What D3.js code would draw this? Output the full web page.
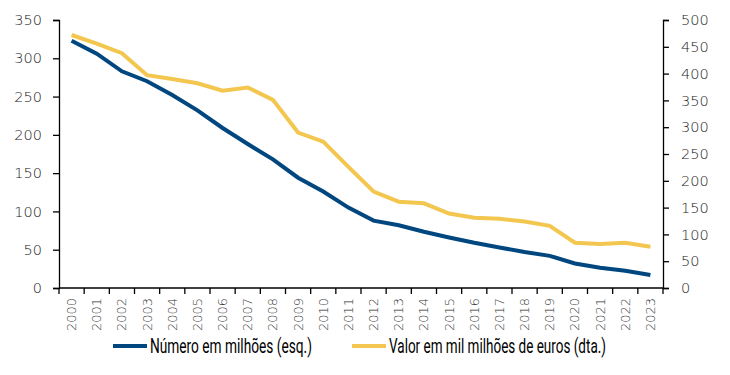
<!DOCTYPE html>
<html>
<head>
<meta charset="utf-8">
<script src="https://cdn.jsdelivr.net/npm/d3@7"></script>
<style>
  body { margin: 0; background: #fff; }
  svg text { font-family: "DejaVu Sans", sans-serif; font-weight: 200; fill: #222; }
  .axis path, .axis line { stroke: #000; stroke-width: 1.3; }
  .legend text { font-family: "Roboto", sans-serif; font-weight: 400; font-size: 20px; fill: #000; }
</style>
</head>
<body>
<div id="chart"></div>
<script>
const years = d3.range(2000, 2024).map(String);
const numeroMilhoes = [323, 306, 283, 270, 252, 232, 209, 188, 168, 144, 126, 105, 88, 82, 73.5, 66, 59, 53, 47, 42, 32, 26.5, 22.5, 17];
const valorMilMilhoes = [472, 456, 438, 397, 390, 382, 368, 374, 351, 290, 273, 226, 180, 161, 158, 139, 131, 129, 124, 116, 84.5, 82, 84.5, 77];
const leftTicks = [0, 50, 100, 150, 200, 250, 300, 350];
const rightTicks = [0, 50, 100, 150, 200, 250, 300, 350, 400, 450, 500];
const seriesNames = ["Número em milhões (esq.)", "Valor em mil milhões de euros (dta.)"];
const colors = ["#00467f", "#f3c74f"];

const width = 730, height = 375;
const margin = { top: 20, right: 67, bottom: 87, left: 59 };
const w = width - margin.left - margin.right;
const h = height - margin.top - margin.bottom;

const svg = d3.select("#chart").append("svg")
    .attr("width", width)
    .attr("height", height);

const g = svg.append("g")
    .attr("transform", `translate(${margin.left},${margin.top})`);

const x = d3.scaleBand().domain(years).range([0, w]);
const yLeft = d3.scaleLinear().domain([0, 350]).range([h, 0]);
const yRight = d3.scaleLinear().domain([0, 500]).range([h, 0]);

// eixos
g.append("g")
    .attr("class", "axis")
    .call(d3.axisLeft(yLeft).tickValues(leftTicks).tickSize(6).tickPadding(11))
    .call(a => a.selectAll("text").style("font-size", "14.5px"));

g.append("g")
    .attr("class", "axis")
    .attr("transform", `translate(${w},0)`)
    .call(d3.axisRight(yRight).tickValues(rightTicks).tickSize(6).tickPadding(12))
    .call(a => a.selectAll("text").style("font-size", "14.5px"));

// eixo x: marcas nas fronteiras das categorias
const xAxis = g.append("g")
    .attr("class", "axis")
    .attr("transform", `translate(0,${h})`);
xAxis.append("line").attr("x1", 0).attr("x2", w);
xAxis.selectAll(".tick-b")
    .data(years.concat(["end"]))
    .enter().append("line")
    .attr("x1", (d, i) => i * x.step())
    .attr("x2", (d, i) => i * x.step())
    .attr("y1", 0).attr("y2", 6);
xAxis.selectAll(".ylabel")
    .data(years)
    .enter().append("text")
    .attr("transform", d => `translate(${x(d) + x.bandwidth() / 2 + 4.5},10) rotate(-90)`)
    .attr("text-anchor", "end")
    .attr("textLength", 33)
    .attr("lengthAdjust", "spacingAndGlyphs")
    .style("font-size", "13px")
    .style("fill", "#333")
    .text(d => d);

// linhas
const lineLeft = d3.line()
    .x((d, i) => x(years[i]) + x.bandwidth() / 2)
    .y(d => yLeft(d));
const lineRight = d3.line()
    .x((d, i) => x(years[i]) + x.bandwidth() / 2)
    .y(d => yRight(d));

g.append("path")
    .datum(valorMilMilhoes)
    .attr("fill", "none")
    .attr("stroke", colors[1])
    .attr("stroke-width", 4)
    .attr("d", lineRight);

g.append("path")
    .datum(numeroMilhoes)
    .attr("fill", "none")
    .attr("stroke", colors[0])
    .attr("stroke-width", 4)
    .attr("d", lineLeft);

// legenda
const legend = svg.append("g").attr("class", "legend");
const legendX = [113, 352];
const legendTextW = [162, 217];
seriesNames.forEach((name, i) => {
    const lg = legend.append("g").attr("transform", `translate(${legendX[i]},346)`);
    lg.append("line")
        .attr("x1", 0).attr("x2", 34)
        .attr("stroke", colors[i])
        .attr("stroke-width", 4);
    lg.append("text")
        .attr("x", 37)
        .attr("y", 7)
        .attr("textLength", legendTextW[i])
        .attr("lengthAdjust", "spacingAndGlyphs")
        .text(name);
});
</script>
</body>
</html>
